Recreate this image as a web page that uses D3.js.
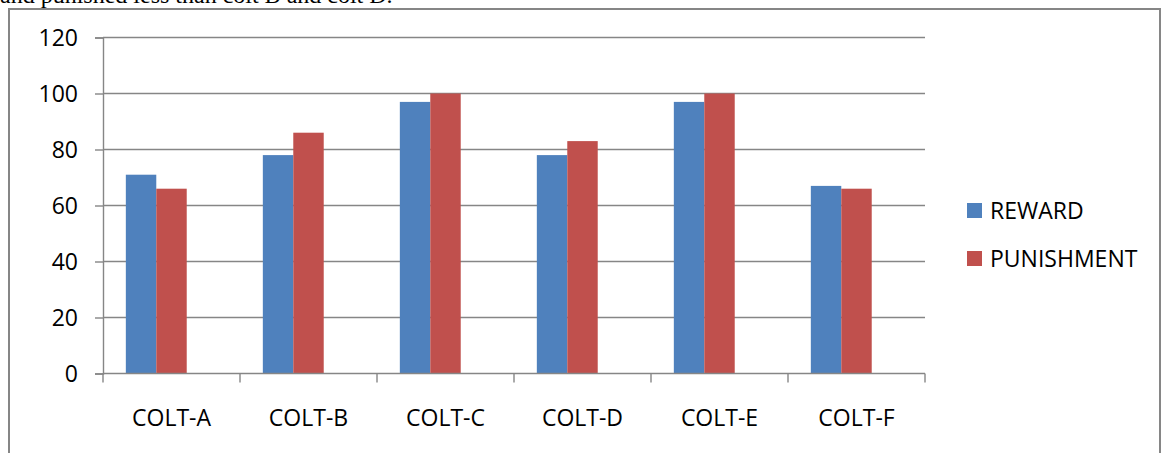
<!DOCTYPE html>
<html>
<head>
<meta charset="utf-8">
<script src="https://cdn.jsdelivr.net/npm/d3@7"></script>
<style>
  html, body { margin: 0; padding: 0; background: #fff; }
  svg { display: block; }
</style>
</head>
<body>
<svg id="chart" width="1165" height="453"></svg>
<script>
// Colts and their scores for the two conditions
const categories = ["COLT-A", "COLT-B", "COLT-C", "COLT-D", "COLT-E", "COLT-F"];
const seriesNames = ["REWARD", "PUNISHMENT"];
const rewardValues = [71, 78, 97, 78, 97, 67];
const punishmentValues = [66, 86, 100, 83, 100, 66];
const yTicks = [0, 20, 40, 60, 80, 100, 120];
const seriesColors = ["#4F81BD", "#C0504D"];

const svg = d3.select("#chart");
const font = "'Open Sans', 'Noto Sans', sans-serif";
const gridColor = "#868686";

// Tail of the paragraph sitting above the figure
svg.append("text")
  .attr("x", 0).attr("y", 3)
  .attr("font-family", "'Liberation Serif', 'Times New Roman', serif")
  .attr("font-size", 24)
  .attr("fill", "#000")
  .text("and punished less than colt B and colt D.");

// Chart frame
svg.append("rect")
  .attr("x", 9).attr("y", 9)
  .attr("width", 1151).attr("height", 470)
  .attr("fill", "none")
  .attr("stroke", gridColor)
  .attr("stroke-width", 2);

const plot = { left: 103, right: 925, top: 37.5, bottom: 373.5 };

const x0 = d3.scaleBand()
  .domain(categories)
  .range([plot.left, plot.right])
  .paddingInner(0).paddingOuter(0);

const bw = x0.bandwidth();
// Bars occupy two of three series slots with a 150% gap width
const x1 = d3.scaleBand()
  .domain(seriesNames)
  .range([bw / 6, bw / 6 + 2 * bw * 2 / 9])
  .padding(0);

const y = d3.scaleLinear().domain([0, 120]).range([plot.bottom, plot.top]);

// Horizontal gridlines
svg.append("g")
  .selectAll("line")
  .data(yTicks.filter(t => t !== 0))
  .join("line")
  .attr("x1", plot.left).attr("x2", plot.right)
  .attr("y1", d => y(d)).attr("y2", d => y(d))
  .attr("stroke", gridColor).attr("stroke-width", 1.4);

// Y axis
const yAxis = svg.append("g")
  .attr("transform", `translate(${plot.left},0)`)
  .call(d3.axisLeft(y).tickValues(yTicks).tickSize(8).tickPadding(17).tickFormat(d3.format("d")));
yAxis.select(".domain").attr("stroke", gridColor).attr("stroke-width", 1.4);
yAxis.selectAll(".tick line").attr("stroke", gridColor).attr("stroke-width", 1.4);
yAxis.selectAll(".tick text")
  .attr("font-family", font).attr("font-size", 23).attr("fill", "#000")
  .attr("dy", "0.36em");

// Bars
const rows = categories.map((c, i) => ({ cat: c, vals: [rewardValues[i], punishmentValues[i]] }));
const groups = svg.append("g")
  .selectAll("g")
  .data(rows)
  .join("g")
  .attr("transform", d => `translate(${x0(d.cat)},0)`);

groups.selectAll("rect")
  .data(d => d.vals.map((v, k) => ({ key: seriesNames[k], value: v, k })))
  .join("rect")
  .attr("x", d => x1(d.key))
  .attr("width", x1.bandwidth())
  .attr("y", d => y(d.value))
  .attr("height", d => y(0) - y(d.value))
  .attr("fill", d => seriesColors[d.k]);

// X axis with ticks at category boundaries
const xAxisG = svg.append("g").attr("transform", `translate(0,${plot.bottom})`);
xAxisG.append("line")
  .attr("x1", plot.left).attr("x2", plot.right)
  .attr("stroke", gridColor).attr("stroke-width", 1.4);
const boundaries = categories.map(c => x0(c)).concat([plot.right]);
xAxisG.selectAll("line.tick")
  .data(boundaries)
  .join("line")
  .attr("class", "tick")
  .attr("x1", d => d).attr("x2", d => d)
  .attr("y1", 0).attr("y2", 9)
  .attr("stroke", gridColor).attr("stroke-width", 1.4);
xAxisG.selectAll("text")
  .data(categories)
  .join("text")
  .attr("x", d => x0(d) + bw / 2)
  .attr("y", 52.5)
  .attr("text-anchor", "middle")
  .attr("font-family", font).attr("font-size", 23).attr("fill", "#000")
  .text(d => d);

// Legend
const legend = svg.append("g").attr("transform", "translate(967,203)");
const items = legend.selectAll("g")
  .data(seriesNames)
  .join("g")
  .attr("transform", (d, i) => `translate(0,${i * 48})`);
items.append("rect")
  .attr("width", 15).attr("height", 15)
  .attr("fill", (d, i) => seriesColors[i]);
items.append("text")
  .attr("x", 23).attr("y", 16)
  .attr("font-family", font).attr("font-size", 23).attr("fill", "#000")
  .text(d => d);
</script>
</body>
</html>
